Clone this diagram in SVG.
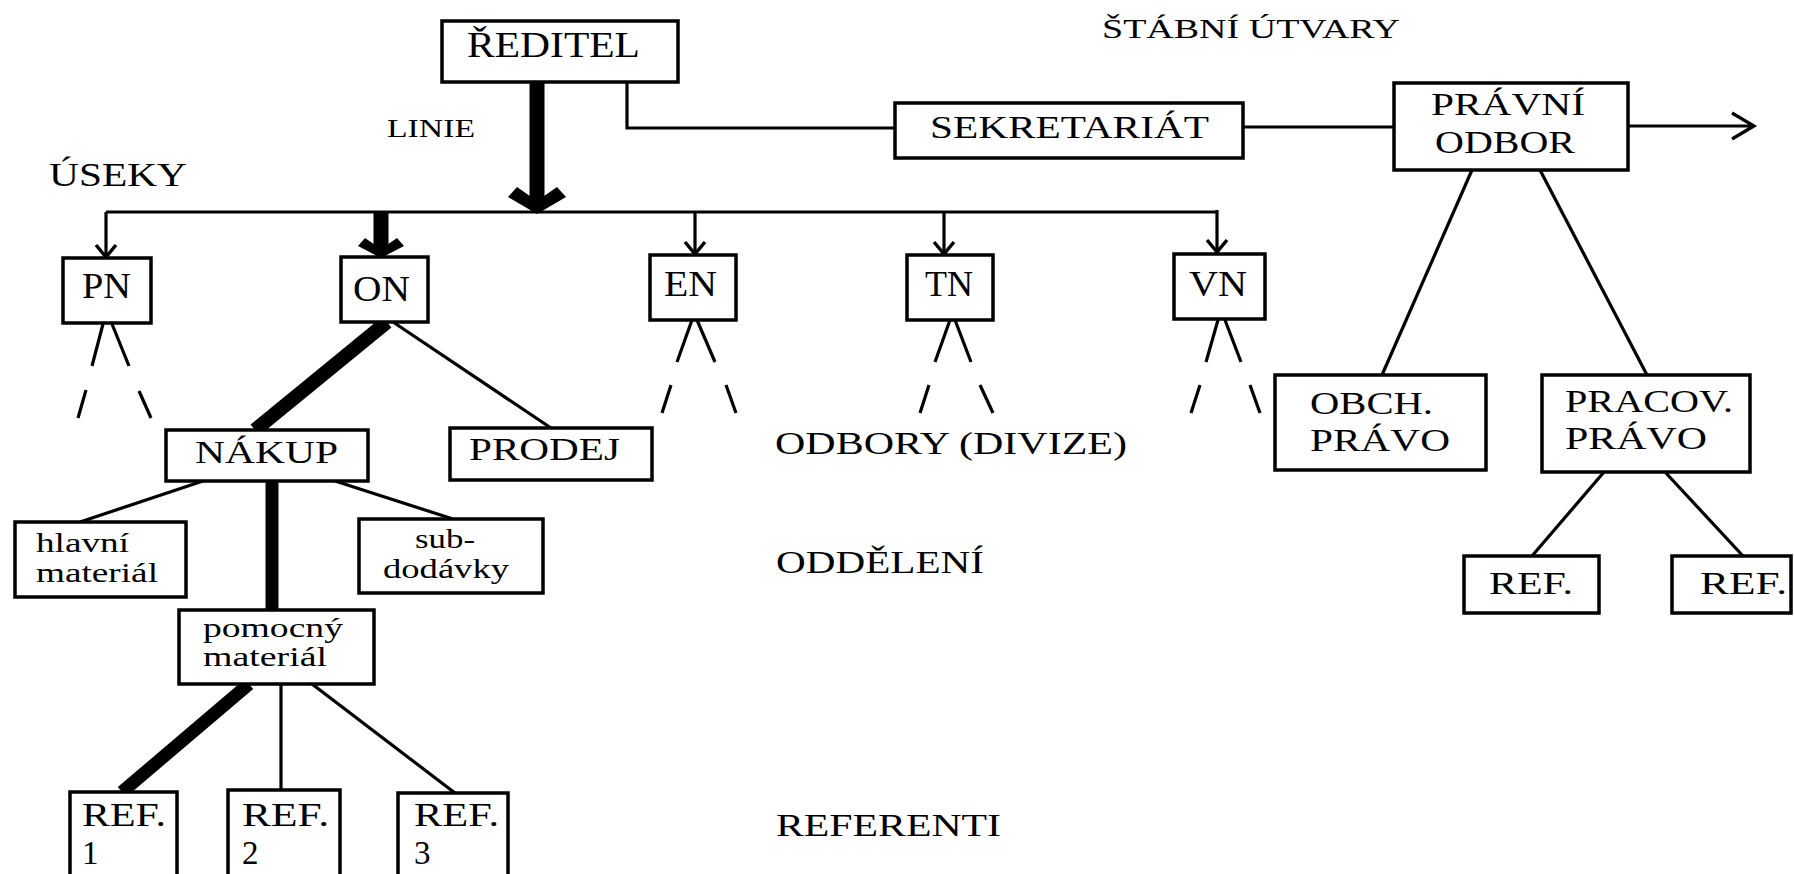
<svg xmlns="http://www.w3.org/2000/svg" width="1794" height="874" viewBox="0 0 1794 874">
<style>
.box{fill:#fff;stroke:#000;stroke-width:3.5}
.t{font-family:"Liberation Serif","Times New Roman",serif;fill:#000}
.ln{stroke:#000;stroke-width:3.2;fill:none}
.thk{stroke:#000;stroke-width:14;fill:none}
.big{font-size:36px}
.mid{font-size:31px}
.sm{font-size:27px}
</style>
<defs>
<marker id="ah" markerUnits="userSpaceOnUse" markerWidth="30" markerHeight="30" viewBox="-15 -15 30 30" refX="0" refY="0" orient="auto">
<path d="M-12,-10 L0,0 L-12,10" fill="none" stroke="#000" stroke-width="3.5"/>
</marker>
</defs>
<rect width="1794" height="874" fill="#fff"/>

<g id="connectors">
<path class="thk" d="M537,82 V203" style="stroke-width:15"/>
<polygon points="508,197 517,187 537,201 557,187 566,197 537,214" fill="#000"/>
<path class="ln" d="M106,212 H1217"/>
<path class="ln" d="M106,212 V257" marker-end="url(#ah)"/>
<path class="thk" d="M381,212 V250" style="stroke-width:15"/>
<polygon points="358,246 365,238 381,249 397,238 404,246 381,258" fill="#000"/>
<path class="ln" d="M695,211 V254" marker-end="url(#ah)"/>
<path class="ln" d="M944,211 V254" marker-end="url(#ah)"/>
<path class="ln" d="M1217,210 V252" marker-end="url(#ah)"/>
<path class="ln" d="M627,82 V128 H895"/>
<path class="ln" d="M1243,127 H1394"/>
<path class="ln" d="M1628,126 H1754 M1732,113 L1754,126 L1732,139"/>
<path class="ln" d="M103,324 L92,366 M86,390 L78,418 M112,324 L129,366 M139,391 L151,418"/>
<path class="ln" d="M692,320 L677,362 M671,385 L662,413 M697,320 L715,362 M726,385 L736,413"/>
<path class="ln" d="M950,320 L935,362 M929,385 L920,413 M955,320 L971,362 M980,385 L993,413"/>
<path class="ln" d="M1218,320 L1206,362 M1200,385 L1191,413 M1225,320 L1241,362 M1250,385 L1260,413"/>
<path class="thk" d="M387,322 L255,430"/>
<path class="ln" d="M393,322 L551,428"/>
<path class="ln" d="M203,481 L80,522"/>
<path class="ln" d="M335,481 L453,519"/>
<path class="thk" d="M272,481 V610" style="stroke-width:13"/>
<path class="thk" d="M249,684 L122,792" style="stroke-width:13"/>
<path class="ln" d="M281,684 V790"/>
<path class="ln" d="M312,684 L455,793"/>
<path class="ln" d="M1472,170 L1382,375"/>
<path class="ln" d="M1540,170 L1647,375"/>
<path class="ln" d="M1604,472 L1532,556"/>
<path class="ln" d="M1665,472 L1743,556"/>
</g>

<g id="labels">
<text class="t" x="1102" y="38" font-size="27" textLength="298" lengthAdjust="spacingAndGlyphs">ŠTÁBNÍ ÚTVARY</text>
<text class="t" x="387" y="137" font-size="26" textLength="88" lengthAdjust="spacingAndGlyphs">LINIE</text>
<text class="t" x="49" y="186" font-size="33" textLength="138" lengthAdjust="spacingAndGlyphs">ÚSEKY</text>
<text class="t mid" x="775" y="454" textLength="352" lengthAdjust="spacingAndGlyphs">ODBORY (DIVIZE)</text>
<text class="t" x="776" y="573" font-size="32" textLength="208" lengthAdjust="spacingAndGlyphs">ODDĚLENÍ</text>
<text class="t mid" x="776" y="836" textLength="225" lengthAdjust="spacingAndGlyphs">REFERENTI</text>
</g>

<g id="reditel"><rect class="box" x="442" y="21" width="236" height="61"/><text class="t" x="467" y="57" font-size="36" textLength="173" lengthAdjust="spacingAndGlyphs">ŘEDITEL</text></g>
<g id="sekretariat"><rect class="box" x="895" y="103" width="348" height="55"/><text class="t mid" x="930" y="138" textLength="279" lengthAdjust="spacingAndGlyphs">SEKRETARIÁT</text></g>
<g id="pravni-odbor"><rect class="box" x="1394" y="83" width="234" height="87"/><text class="t" x="1431" y="115" font-size="31" textLength="154" lengthAdjust="spacingAndGlyphs">PRÁVNÍ</text><text class="t" x="1435" y="153" font-size="31" textLength="140" lengthAdjust="spacingAndGlyphs">ODBOR</text></g>

<g id="pn"><rect class="box" x="63" y="258" width="88" height="65"/><text class="t big" x="82" y="298" textLength="49" lengthAdjust="spacingAndGlyphs">PN</text></g>
<g id="on"><rect class="box" x="341" y="257" width="87" height="65"/><text class="t big" x="353" y="301" textLength="57" lengthAdjust="spacingAndGlyphs">ON</text></g>
<g id="en"><rect class="box" x="650" y="255" width="86" height="65"/><text class="t big" x="664" y="296" textLength="53" lengthAdjust="spacingAndGlyphs">EN</text></g>
<g id="tn"><rect class="box" x="907" y="255" width="86" height="65"/><text class="t big" x="925" y="296" textLength="48" lengthAdjust="spacingAndGlyphs">TN</text></g>
<g id="vn"><rect class="box" x="1174" y="254" width="91" height="65"/><text class="t big" x="1189" y="296" textLength="58" lengthAdjust="spacingAndGlyphs">VN</text></g>

<g id="nakup"><rect class="box" x="166" y="430" width="202" height="51"/><text class="t mid" x="195" y="463" textLength="143" lengthAdjust="spacingAndGlyphs">NÁKUP</text></g>
<g id="prodej"><rect class="box" x="450" y="428" width="202" height="52"/><text class="t mid" x="469" y="460" textLength="151" lengthAdjust="spacingAndGlyphs">PRODEJ</text></g>

<g id="hlavni"><rect class="box" x="15" y="522" width="171" height="75"/><text class="t sm" x="36" y="552" textLength="93" lengthAdjust="spacingAndGlyphs">hlavní</text><text class="t sm" x="36" y="582" textLength="122" lengthAdjust="spacingAndGlyphs">materiál</text></g>
<g id="subdodavky"><rect class="box" x="359" y="519" width="184" height="74"/><text class="t sm" x="415" y="548" textLength="60" lengthAdjust="spacingAndGlyphs">sub-</text><text class="t sm" x="383" y="578" textLength="126" lengthAdjust="spacingAndGlyphs">dodávky</text></g>
<g id="pomocny"><rect class="box" x="179" y="610" width="195" height="74"/><text class="t sm" x="203" y="637" textLength="140" lengthAdjust="spacingAndGlyphs">pomocný</text><text class="t sm" x="203" y="666" textLength="124" lengthAdjust="spacingAndGlyphs">materiál</text></g>

<g id="ref1"><rect class="box" x="70" y="792" width="107" height="95"/><text class="t" x="82" y="826" font-size="33" textLength="84" lengthAdjust="spacingAndGlyphs">REF.</text><text class="t" x="82" y="864" font-size="33">1</text></g>
<g id="ref2"><rect class="box" x="228" y="790" width="112" height="97"/><text class="t" x="242" y="826" font-size="33" textLength="87" lengthAdjust="spacingAndGlyphs">REF.</text><text class="t" x="242" y="864" font-size="33">2</text></g>
<g id="ref3"><rect class="box" x="398" y="793" width="110" height="94"/><text class="t" x="414" y="826" font-size="33" textLength="85" lengthAdjust="spacingAndGlyphs">REF.</text><text class="t" x="414" y="864" font-size="33">3</text></g>

<g id="obch-pravo"><rect class="box" x="1275" y="375" width="211" height="95"/><text class="t" x="1310" y="414" font-size="31" textLength="123" lengthAdjust="spacingAndGlyphs">OBCH.</text><text class="t" x="1310" y="451" font-size="31" textLength="140" lengthAdjust="spacingAndGlyphs">PRÁVO</text></g>
<g id="pracov-pravo"><rect class="box" x="1542" y="375" width="208" height="97"/><text class="t" x="1565" y="412" font-size="31" textLength="168" lengthAdjust="spacingAndGlyphs">PRACOV.</text><text class="t" x="1565" y="449" font-size="31" textLength="142" lengthAdjust="spacingAndGlyphs">PRÁVO</text></g>
<g id="ref-a"><rect class="box" x="1464" y="556" width="135" height="57"/><text class="t" x="1489" y="594" font-size="31" textLength="84" lengthAdjust="spacingAndGlyphs">REF.</text></g>
<g id="ref-b"><rect class="box" x="1672" y="556" width="119" height="57"/><text class="t" x="1700" y="594" font-size="31" textLength="87" lengthAdjust="spacingAndGlyphs">REF.</text></g>
</svg>
